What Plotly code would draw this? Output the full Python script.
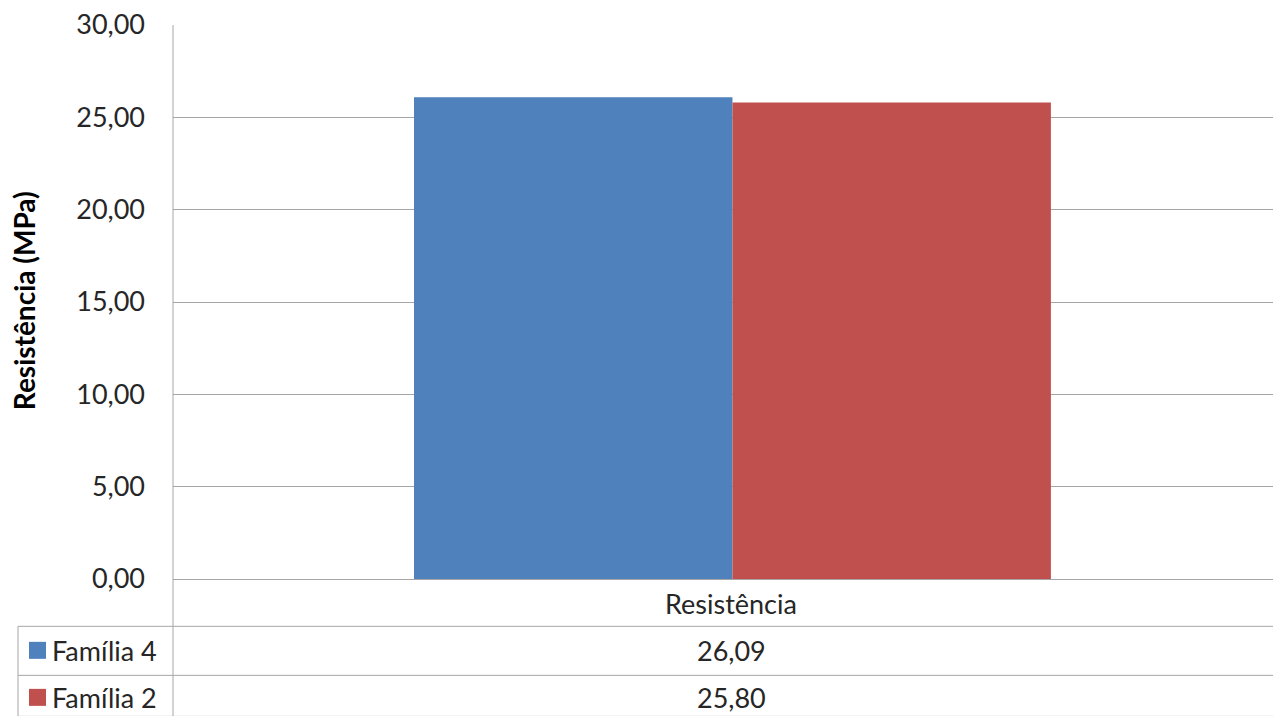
import plotly.graph_objects as go

# Data
categories = ["Resistência"]
series_names = ["Família 4", "Família 2"]
series_values = [[26.09], [25.80]]
series_colors = ["#4F81BD", "#C0504D"]
y_tick_values = [0, 5, 10, 15, 20, 25, 30]
y_title = "Resistência (MPa)"

W, H = 1273, 716
LEFT, TOP, RIGHT = 173, 25, 0
ZERO_PX = 578.7          # pixel row of the value axis baseline
BOTTOM = H - ZERO_PX
PLOT_H = ZERO_PX - TOP
FONT = "Lato"
FS = 27
GRID = "#A6A6A6"
TXT = "#262626"


def py(px):
    """Pixel row -> paper y coordinate."""
    return (ZERO_PX - px) / PLOT_H


def px_x(px):
    """Pixel column -> paper x coordinate."""
    return (px - LEFT) / (W - LEFT - RIGHT)


def fmt(v):
    return f"{v:.2f}".replace(".", ",")


fig = go.Figure()
for name, vals, col in zip(series_names, series_values, series_colors):
    fig.add_trace(go.Bar(x=categories, y=vals, name=name, marker=dict(color=col, line=dict(width=0))))

shapes = []
annotations = []

# data table grid
row_lines = [626, 675, 716]
for r in row_lines:
    shapes.append(dict(type="line", xref="paper", yref="paper", x0=px_x(18), x1=1, y0=py(r), y1=py(r),
                       line=dict(color=GRID, width=1)))
shapes.append(dict(type="line", xref="paper", yref="paper", x0=0, x1=0, y0=py(716), y1=1,
                   line=dict(color=GRID, width=1)))
shapes.append(dict(type="line", xref="paper", yref="paper", x0=px_x(18), x1=px_x(18), y0=py(716), y1=py(626),
                   line=dict(color=GRID, width=1)))

# category label row
annotations.append(dict(text=categories[0], xref="paper", yref="paper", x=px_x(731), y=py(603),
                        xanchor="center", yanchor="middle",
                        showarrow=False, font=dict(family=FONT, size=FS, color=TXT)))

row_centers = [650, 697]
for name, vals, col, yc in zip(series_names, series_values, series_colors, row_centers):
    shapes.append(dict(type="rect", xref="paper", yref="paper", x0=px_x(29), x1=px_x(46),
                       y0=py(yc + 8.5), y1=py(yc - 8.5), fillcolor=col, line=dict(width=0)))
    annotations.append(dict(text=name, xref="paper", yref="paper", x=px_x(50), y=py(yc),
                            xanchor="left", yanchor="middle",
                            showarrow=False, font=dict(family=FONT, size=FS, color=TXT)))
    annotations.append(dict(text=fmt(vals[0]), xref="paper", yref="paper", x=px_x(731), y=py(yc),
                            xanchor="center", yanchor="middle",
                            showarrow=False, font=dict(family=FONT, size=FS, color=TXT)))

# y axis title
annotations.append(dict(text=f"<b>{y_title}</b>", xref="paper", yref="paper", x=px_x(24), y=py(301),
                        xanchor="center", yanchor="middle",
                        textangle=-90, showarrow=False, font=dict(family=FONT, size=28, color="#000000")))

fig.update_layout(
    width=W, height=H,
    margin=dict(l=LEFT, r=RIGHT, t=TOP, b=BOTTOM, pad=0),
    paper_bgcolor="white", plot_bgcolor="white",
    barmode="group", bargap=0.421, bargroupgap=0,
    showlegend=False,
    shapes=shapes, annotations=annotations,
    font=dict(family=FONT, size=FS, color=TXT),
)
fig.update_xaxes(showticklabels=False, showgrid=False, zeroline=False, showline=False,
                 range=[-0.5086, 0.4914])
fig.update_yaxes(range=[0, 30], tickvals=y_tick_values, ticktext=[fmt(v) for v in y_tick_values],
                 showgrid=True, gridcolor=GRID, gridwidth=1, zeroline=True, zerolinecolor=GRID,
                 zerolinewidth=1, showline=False, ticks="", ticklabelstandoff=27,
                 tickfont=dict(family=FONT, size=FS, color=TXT))

fig.write_html("out.html")
